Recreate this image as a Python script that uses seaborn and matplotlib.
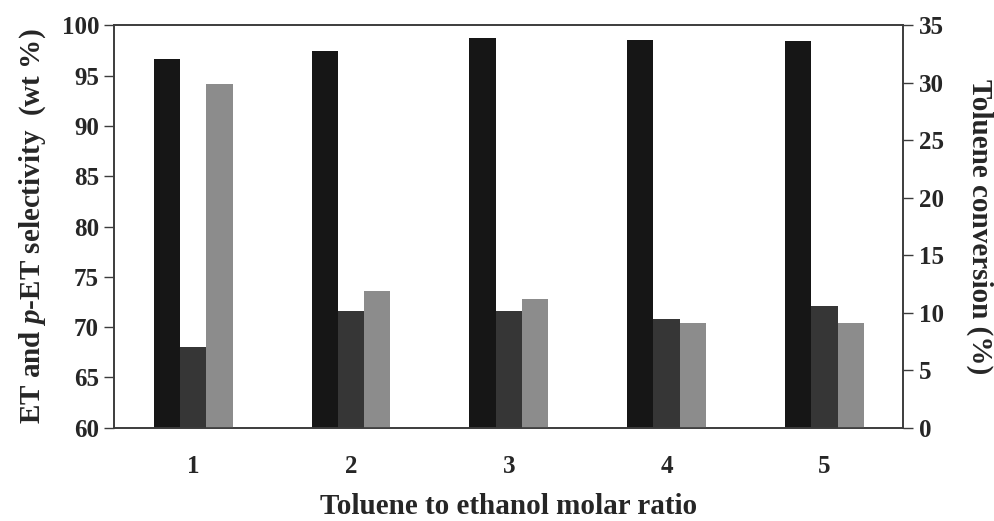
import matplotlib
matplotlib.use("Agg")
import matplotlib.pyplot as plt
import seaborn as sns
import pandas as pd

# Toluene alkylation results per molar ratio
ratios = ["1", "2", "3", "4", "5"]
et_sel = [96.7, 97.5, 98.8, 98.6, 98.5]        # black bars, left axis (wt %)
pet_sel = [68.0, 71.6, 71.6, 70.8, 72.1]       # dark bars, left axis (wt %)
tol_conv = [29.9, 11.9, 11.2, 9.1, 9.1]        # grey bars, right axis (%)

series = ["ET", "p-ET", "Conversion"]
colors = {"ET": "#161616", "p-ET": "#363636", "Conversion": "#8c8c8c"}

sns.set_theme(style="white")
plt.rcParams.update({
    "font.family": ["Liberation Serif", "DejaVu Serif"],
    "font.weight": "bold",
    "mathtext.fontset": "custom",
    "mathtext.rm": "Liberation Serif:bold",
    "mathtext.it": "Liberation Serif:italic:bold",
    "mathtext.bf": "Liberation Serif:bold",
})

left = pd.DataFrame({
    "ratio": ratios * 2,
    "series": ["ET"] * 5 + ["p-ET"] * 5,
    "value": et_sel + pet_sel,
})
right = pd.DataFrame({"ratio": ratios, "series": ["Conversion"] * 5, "value": tol_conv})

fig = plt.figure(figsize=(9.95, 5.21), dpi=100)
ax = fig.add_axes([0.1149, 0.1791, 0.7929, 0.7720])
ax2 = ax.twinx()

sns.barplot(data=left, x="ratio", y="value", hue="series", hue_order=series,
            palette=colors, width=0.5, order=ratios, ax=ax, legend=False,
            saturation=1, linewidth=0, dodge=True)
sns.barplot(data=right, x="ratio", y="value", hue="series", hue_order=series,
            palette=colors, width=0.5, order=ratios, ax=ax2, legend=False,
            saturation=1, linewidth=0, dodge=True)

ax.set_xlim(-0.5, 4.5)
ax.set_ylim(60, 100)
ax.set_yticks(range(60, 101, 5))
ax2.set_ylim(0, 35)
ax2.set_yticks(range(0, 36, 5))

spine_color = "#3c3c3c"
for a in (ax, ax2):
    for s in a.spines.values():
        s.set_color(spine_color)
        s.set_linewidth(1.2)

ax.tick_params(axis="y", direction="out", length=7, width=1.0, color=spine_color,
               labelsize=18, pad=4, left=True)
ax.tick_params(axis="x", length=0, labelsize=18, pad=20)
ax2.tick_params(axis="y", direction="out", length=7, width=1.0, color=spine_color,
                labelsize=18, pad=4, right=True)

ax.set_xlabel("Toluene to ethanol molar ratio", fontsize=21, fontweight="bold")
ax.xaxis.set_label_coords(0.5, -0.162)

ax.set_ylabel(r"ET and $\mathit{p}$-ET selectivity  (wt %)", fontsize=21,
              fontweight="bold", va="baseline")
ax.yaxis.set_label_coords(-0.095, 0.5)

ax2.set_ylabel("Toluene conversion (%)", fontsize=21, fontweight="bold",
               rotation=270, va="baseline")
ax2.yaxis.set_label_coords(1.087, 0.50)

for lab in ax.get_xticklabels() + ax.get_yticklabels() + ax2.get_yticklabels():
    lab.set_fontweight("bold")

fig.savefig("out.png", dpi=100)
